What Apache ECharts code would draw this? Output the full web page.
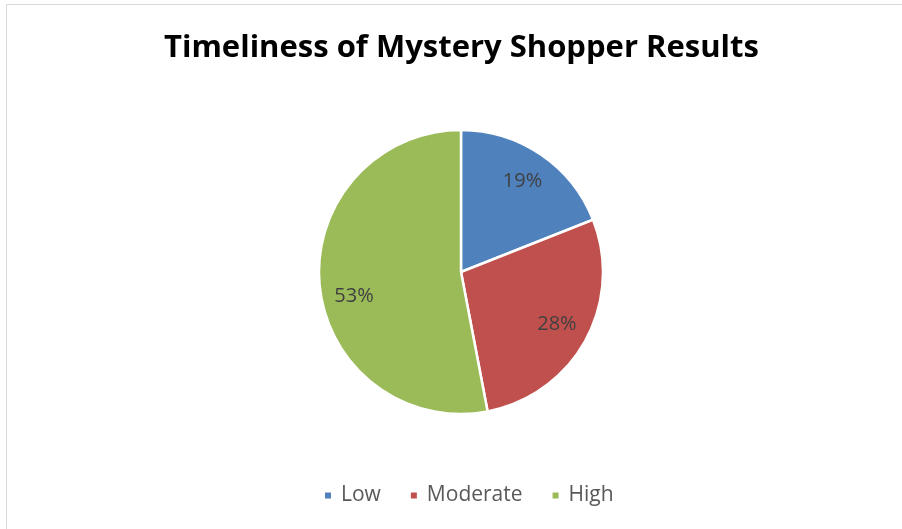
<!DOCTYPE html>
<html>
<head>
<meta charset="utf-8">
<script src="https://cdn.jsdelivr.net/npm/echarts@6/dist/echarts.min.js"></script>
<style>
  html, body { margin: 0; padding: 0; background: #fff; }
  #chart { width: 902px; height: 529px; }
</style>
</head>
<body>
<div id="chart"></div>
<script>
// Survey result shares
const categories = ['Low', 'Moderate', 'High'];
const shares = [19, 28, 53];
const colors = ['#4F81BD', '#C0504D', '#9BBB59'];
const titleText = 'Timeliness of Mystery Shopper Results';

const FONT = '"Open Sans", Lato, sans-serif';
const CX = 461, CY = 272, R = 142;

const sliceData = categories.map((name, i) => ({
  name, value: shares[i], itemStyle: { color: colors[i] }
}));

// Label ring: transparent band so labels sit at 3/4 of the radius
const labelData = categories.map((name, i) => ({
  name, value: shares[i],
  label: name === 'High' ? { offset: [2, 14] } : {}
}));

const chart = echarts.init(document.getElementById('chart'), null, { renderer: 'canvas' });
chart.setOption({
  backgroundColor: '#ffffff',
  animation: false,
  title: {
    text: titleText,
    left: 159,
    top: 28,
    textStyle: { fontFamily: FONT, fontWeight: 'bold', fontSize: 31, color: '#000000' }
  },
  legend: {
    data: categories,
    bottom: 18,
    left: 318,
    icon: 'rect',
    itemWidth: 8,
    itemHeight: 8,
    itemGap: 28,
    textStyle: { fontFamily: FONT, fontSize: 21, color: '#595959', padding: [0, 0, 0, 4] }
  },
  graphic: [{
    type: 'rect',
    shape: { x: 6.5, y: 4.5, width: 1000, height: 1000 },
    style: { fill: 'none', stroke: '#d9d9d9', lineWidth: 1 },
    silent: true
  }],
  series: [
    {
      type: 'pie',
      center: [CX, CY],
      radius: [0, R],
      startAngle: 90,
      clockwise: true,
      label: { show: false },
      labelLine: { show: false },
      itemStyle: { borderColor: '#ffffff', borderWidth: 2.5 },
      emphasis: { disabled: true },
      data: sliceData
    },
    {
      type: 'pie',
      center: [CX, CY],
      radius: [R * 0.5, R],
      startAngle: 90,
      clockwise: true,
      silent: true,
      legendHoverLink: false,
      itemStyle: { color: 'rgba(0,0,0,0)', borderWidth: 0 },
      label: {
        show: true,
        position: 'inside',
        formatter: '{c}%',
        fontFamily: FONT,
        fontSize: 20,
        color: '#404040'
      },
      labelLine: { show: false },
      emphasis: { disabled: true },
      data: labelData
    }
  ]
});
</script>
</body>
</html>
